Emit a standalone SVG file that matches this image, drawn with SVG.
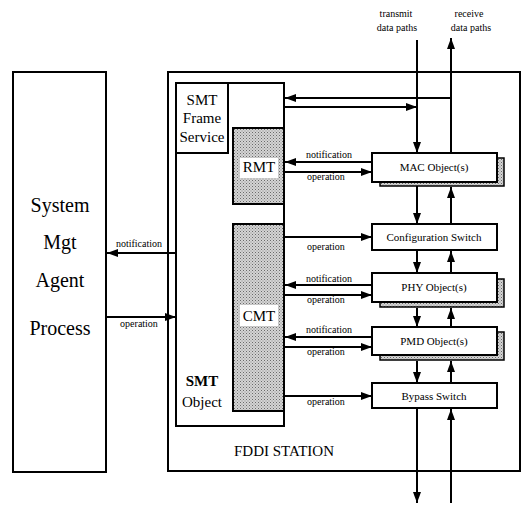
<svg xmlns="http://www.w3.org/2000/svg" width="525" height="508" viewBox="0 0 525 508">
<defs>
<pattern id="dots" width="3" height="3" patternUnits="userSpaceOnUse">
<rect width="3" height="3" fill="#d4d4d4"/>
<rect width="1" height="1" fill="#6a6a6a"/>
<rect x="1.5" y="1.5" width="1" height="1" fill="#8a8a8a"/>
</pattern>
<marker id="ah" viewBox="0 0 11 8" refX="11" refY="4" markerWidth="11" markerHeight="8" markerUnits="userSpaceOnUse" orient="auto">
<path d="M0,0 L11,4 L0,8 z" fill="#000"/>
</marker>
</defs>
<style>
.box{fill:#fff;stroke:#000;stroke-width:2}
.shade{fill:url(#dots);stroke:#000;stroke-width:2}
.shadow{fill:url(#dots);stroke:#000;stroke-width:1.5}
.t{font-family:"Liberation Serif","Times New Roman",serif;fill:#000;text-anchor:middle}
.big{font-size:20px}
.mid{font-size:15px}
.sm{font-size:11px}
.lab{font-family:"Liberation Serif","Times New Roman",serif;font-size:10px;fill:#000;text-anchor:middle}
.c line{stroke:#000;stroke-width:2;marker-end:url(#ah)}
.c line.p{marker-end:none}
</style>
<rect width="525" height="508" fill="#fff"/>

<g id="system-mgt-agent-process">
<rect class="box" x="13" y="72" width="93" height="400"/>
<text class="t big" x="60" y="212">System</text>
<text class="t big" x="60" y="249">Mgt</text>
<text class="t big" x="60" y="287">Agent</text>
<text class="t big" x="60" y="335">Process</text>
</g>

<g id="fddi-station">
<rect class="box" x="168" y="72" width="352" height="399"/>
<text class="t mid" x="284" y="456">FDDI STATION</text>
</g>

<g id="smt-object">
<rect class="box" x="176" y="83" width="108" height="343"/>
<text class="t mid" x="202" y="386" font-weight="bold">SMT</text>
<text class="t mid" x="202" y="407">Object</text>
</g>

<g id="smt-frame-service">
<rect class="box" x="176" y="83" width="52" height="70"/>
<text class="t mid" x="202" y="105">SMT</text>
<text class="t mid" x="202" y="123">Frame</text>
<text class="t mid" x="202" y="142">Service</text>
</g>

<g id="rmt">
<rect class="shade" x="233" y="128" width="51" height="76"/>
<rect x="240" y="158" width="38" height="20" fill="#fff"/>
<text class="t mid" x="259" y="172">RMT</text>
</g>

<g id="cmt">
<rect class="shade" x="233" y="224" width="51" height="187"/>
<rect x="240" y="305" width="38" height="21" fill="#fff"/>
<text class="t mid" x="259" y="321">CMT</text>
</g>

<g id="mac-objects">
<rect class="shadow" x="380" y="158" width="124" height="28"/>
<rect class="box" x="372" y="153" width="125" height="29"/>
<text class="t sm" x="434" y="171">MAC  Object(s)</text>
</g>

<g id="configuration-switch">
<rect class="box" x="372" y="224" width="125" height="26"/>
<text class="t sm" x="434" y="241">Configuration  Switch</text>
</g>

<g id="phy-objects">
<rect class="shadow" x="380" y="279" width="124" height="28"/>
<rect class="box" x="372" y="273" width="125" height="29"/>
<text class="t sm" x="434" y="291">PHY  Object(s)</text>
</g>

<g id="pmd-objects">
<rect class="shadow" x="380" y="332" width="124" height="28"/>
<rect class="box" x="372" y="327" width="125" height="28"/>
<text class="t sm" x="434" y="345">PMD  Object(s)</text>
</g>

<g id="bypass-switch">
<rect class="box" x="372" y="383" width="125" height="25"/>
<text class="t sm" x="434" y="400">Bypass  Switch</text>
</g>

<g id="connectors" class="c">
<line x1="176" y1="253" x2="107" y2="253"/>
<line x1="107" y1="317" x2="176" y2="317"/>
<line x1="451" y1="98" x2="285" y2="98"/>
<line x1="285" y1="107" x2="417" y2="107"/>
<line x1="417" y1="40" x2="417" y2="153"/>
<line x1="451" y1="153" x2="451" y2="38"/>
<line x1="372" y1="162" x2="285" y2="162"/>
<line x1="285" y1="172" x2="372" y2="172"/>
<line x1="285" y1="237" x2="372" y2="237"/>
<line x1="372" y1="285" x2="285" y2="285"/>
<line x1="285" y1="295" x2="372" y2="295"/>
<line x1="372" y1="337" x2="285" y2="337"/>
<line x1="285" y1="347" x2="372" y2="347"/>
<line x1="285" y1="396" x2="372" y2="396"/>
<line x1="417" y1="186" x2="417" y2="224"/>
<line x1="451" y1="224" x2="451" y2="187"/>
<line x1="417" y1="251" x2="417" y2="273"/>
<line x1="451" y1="273" x2="451" y2="251"/>
<line x1="417" y1="308" x2="417" y2="327"/>
<line x1="451" y1="327" x2="451" y2="308"/>
<line x1="417" y1="361" x2="417" y2="383"/>
<line x1="451" y1="383" x2="451" y2="361"/>
<line x1="417" y1="409" x2="417" y2="503"/>
<line x1="451" y1="503" x2="451" y2="409"/>
<text class="lab" x="139" y="247">notification</text>
<text class="lab" x="139" y="327">operation</text>
<text class="lab" x="329" y="158">notification</text>
<text class="lab" x="326" y="180">operation</text>
<text class="lab" x="326" y="250">operation</text>
<text class="lab" x="329" y="282">notification</text>
<text class="lab" x="326" y="303">operation</text>
<text class="lab" x="329" y="333">notification</text>
<text class="lab" x="326" y="355">operation</text>
<text class="lab" x="326" y="405">operation</text>
<text class="lab" x="396" y="17" font-size="11">transmit</text>
<text class="lab" x="397" y="31" font-size="11">data paths</text>
<text class="lab" x="469" y="17" font-size="11">receive</text>
<text class="lab" x="471" y="31" font-size="11">data paths</text>
</g>
</svg>
